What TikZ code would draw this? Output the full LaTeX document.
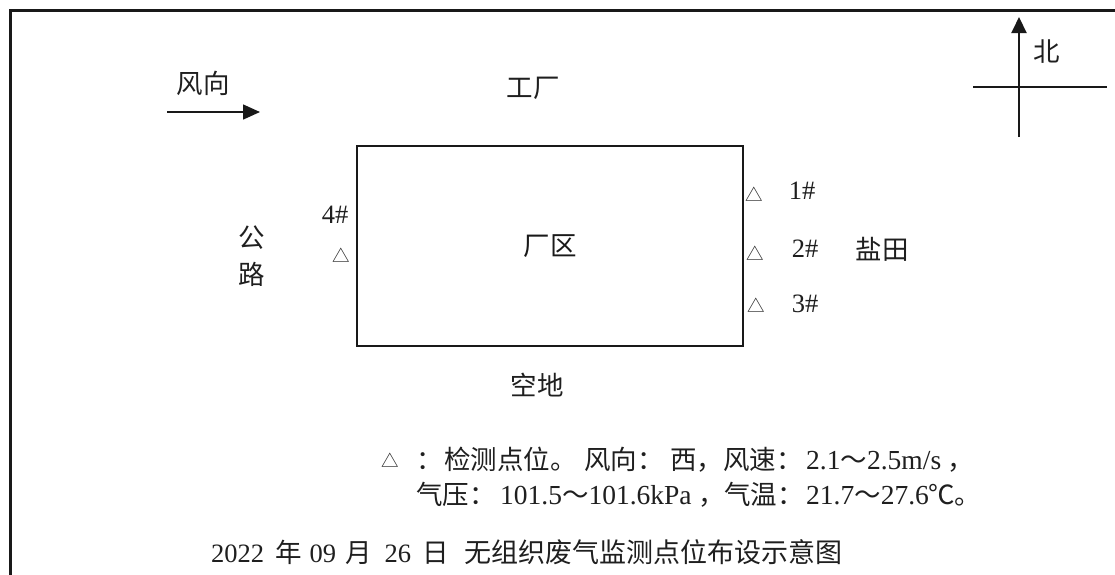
\documentclass[tikz,border=0pt]{standalone}
\usepackage{fontspec}
\setmainfont{Liberation Serif}
\newfontfamily\cjkfont{Noto Sans CJK SC}
\newcommand{\zh}[1]{{\fontsize{26.5}{30}\cjkfont #1}}
\usetikzlibrary{arrows.meta}
\tikzset{
  lbl/.style={inner sep=0pt, text=black!88, font=\fontsize{26.5}{30}\selectfont},
  leg/.style={inner sep=0pt, text=black!88, anchor=base west, font=\fontsize{27.5}{30}\selectfont},
  tri/.style={inner sep=0pt, text=black!88, font=\cjkfont\fontsize{17.5}{19}\selectfont},
  frameline/.style={line width=3pt, black!90},
  site/.style={draw, line width=2.5pt, black!90},
  compass/.style={line width=2pt, black!90},
  windarrow/.style={line width=1.5pt, black!90, -{Triangle[length=17pt,width=15pt]}},
}
\begin{document}
\begin{tikzpicture}[x=1pt,y=-1pt]
\useasboundingbox (0,0) rectangle (1115,574);
\fill[white] (0,0) rectangle (1115,574);
% outer frame
\coordinate (fbl) at (10,580);
\coordinate (ftl) at (10,10);
\coordinate (ftr) at (1120,10);
\draw[frameline] (fbl) -- (ftl) -- (ftr);
% wind direction
\node[lbl] (wind) at (203,83) {\zh{风向}};
\coordinate (wa) at (167,112);
\coordinate (wb) at (260,112);
\draw[windarrow] (wa) -- (wb);
% north compass
\coordinate (ns) at (1019,137);
\coordinate (nn) at (1019,17);
\coordinate (we) at (973,87);
\coordinate (ea) at (1107,87);
\draw[compass, -{Triangle[length=16pt,width=15pt]}] (ns) -- (nn);
\draw[compass] (we) -- (ea);
\node[lbl] (north) at (1047,52) {\zh{北}};
% plant
\node[lbl] (factory) at (533,88) {\zh{工厂}};
\node[lbl, site, minimum width=386pt, minimum height=200pt] (plant) at (550,246) {\zh{厂区}};
\node[lbl] (open) at (537,385) {\zh{空地}};
\node[lbl] (road1) at (252,238) {\zh{公}};
\node[lbl] (road2) at (252,274) {\zh{路}};
\node[lbl] (salt) at (882,249) {\zh{盐田}};
% monitoring points
\node[lbl] (p4) at (335,215) {4\#};
\node[tri] (t4) at (341,255) {△};
\node[tri] (t1) at (754,194) {△};
\node[lbl] (p1) at (802,191) {1\#};
\node[tri] (t2) at (755,253) {△};
\node[lbl] (p2) at (805,249) {2\#};
\node[tri] (t3) at (756,305) {△};
\node[lbl] (p3) at (805,304) {3\#};
% legend, line 1
\node[tri] (tleg) at (390,460) {△};
\node[leg] (colon) at (416,469) {\zh{：}};
\node[leg] (l1a) at (444,469) {\zh{检测点位。}};
\node[leg] (l1b) at (584,469) {\zh{风向：}};
\node[leg] (l1c) at (670,469) {\zh{西，}};
\node[leg] (l1d) at (723,469) {\zh{风速：}};
\node[leg] (l1e) at (806,469) {2.1\zh{～}2.5m/s};
\node[leg] (l1f) at (947,469) {\zh{，}};
% legend, line 2
\node[leg] (l2a) at (416,504) {\zh{气压：}};
\node[leg] (l2b) at (500,504) {101.5\zh{～}101.6kPa};
\node[leg] (l2c) at (698,504) {\zh{，}};
\node[leg] (l2d) at (724,504) {\zh{气温：}};
\node[leg] (l2e) at (806,504) {21.7\zh{～}27.6};
\node[leg] (l2f) at (928,504) {\zh{℃}};
\node[leg] (l2g) at (954,504) {\zh{。}};
% caption
\node[lbl, anchor=west] (capdate) at (211,552) {2022\hspace{11pt}\zh{年}\hspace{8pt}09\hspace{9pt}\zh{月}\hspace{13pt}26\hspace{11pt}\zh{日}};
\node[lbl, anchor=east, font=\fontsize{27}{30}\selectfont] (captitle) at (843,552) {{\cjkfont 无组织废气监测点位布设示意图}};
\end{tikzpicture}
\end{document}
